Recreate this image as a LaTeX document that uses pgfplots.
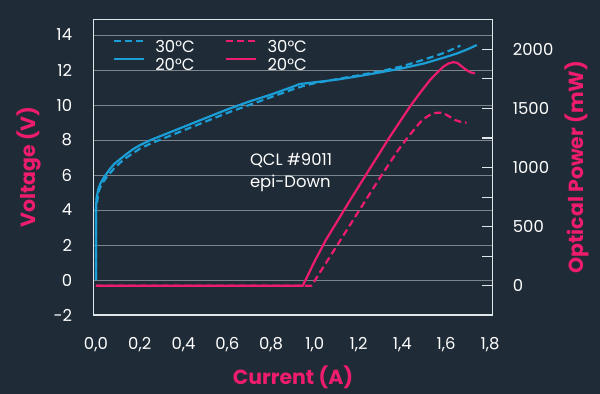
\documentclass[border=0pt]{standalone}
\usepackage{fontspec}
\setmainfont{Poppins}
\usepackage{pgfplots}
\pgfplotsset{compat=1.18}
\definecolor{bg}{RGB}{31,43,54}
\definecolor{qblue}{RGB}{27,158,214}
\definecolor{qpink}{RGB}{238,28,108}
\definecolor{gridc}{RGB}{125,133,140}
\definecolor{framec}{RGB}{225,230,235}
\newcommand{\tfont}{\fontsize{16.5}{16.5}\selectfont}
\newcommand{\lfont}{\fontsize{20.5}{20.5}\selectfont\bfseries}
\pgfplotsset{
  common/.style={
    scale only axis, width=399.4bp, height=295.7bp,
    xmin=-0.012, xmax=1.8125, clip=false,
    tick label style={font=\tfont, text=white},
    /pgf/number format/assume math mode=true,
    /pgf/number format/1000 sep={},
    axis line style={framec, line width=1.1bp},
    legend style={draw=none, fill=none, inner sep=0pt, anchor=north west,
      font=\tfont, text=white, row sep=5.6bp,
      nodes={inner sep=0pt, text height=11.7bp, text depth=0bp},
      /tikz/every odd column/.append style={column sep=10bp}},
    legend cell align=left,
    legend image code/.code={\draw[##1, line width=2.2bp] (0bp,5.5bp) -- (30bp,5.5bp);},
  },
  dsh/.style={dash pattern=on 7bp off 4bp},
}
\begin{document}
\begin{tikzpicture}
\useasboundingbox (-93.3bp,-79bp) rectangle (506.7bp,315bp);
\fill[bg] (-93.3bp,-79bp) rectangle (506.7bp,315bp);
\begin{axis}[common,
  ymin=-2, ymax=14.9,
  ytick={-2,0,2,4,6,8,10,12,14},
  xtick={0,0.2,0.4,0.6,0.8,1,1.2,1.4,1.6,1.8},
  major tick length=0pt, tick style={draw=none},
  xtick pos=bottom, ytick pos=left,
  ymajorgrids, grid style={gridc, line width=0.9bp},
  yticklabel style={anchor=east, inner sep=0pt, xshift=-21bp},
  xticklabel style={anchor=north, inner sep=0pt, yshift=-22bp,
    /pgf/number format/fixed, /pgf/number format/fixed zerofill,
    /pgf/number format/precision=1, /pgf/number format/use comma},
  legend style={at={(0.049,0.931)}},
]
\addplot[qblue, line width=2.2bp, dsh, line join=round] coordinates {
 (0,0) (0.0,4.0) (0.006,4.5) (0.011,5.0) (0.02,5.3) (0.033,5.6) (0.05,5.9)
 (0.085,6.4) (0.11,6.7) (0.14,7.0) (0.17,7.25) (0.2,7.5) (0.25,7.8) (0.3,8.05)
 (0.35,8.3) (0.4,8.55) (0.5,9.05) (0.6,9.55) (0.7,10.0) (0.8,10.45) (0.9,10.9)
 (0.95,11.1) (1.0,11.25) (1.1,11.48) (1.2,11.7) (1.3,11.93) (1.4,12.22)
 (1.5,12.6) (1.6,13.02) (1.665,13.4)};
\addlegendentry{30°C}
\addplot[qblue, line width=2.2bp, line join=round] coordinates {
 (0,0) (0.0,4.0) (0.003,4.7) (0.011,5.2) (0.02,5.5) (0.033,5.8) (0.05,6.1)
 (0.064,6.35) (0.085,6.65) (0.11,6.9) (0.14,7.2) (0.17,7.48) (0.2,7.7) (0.25,8.0)
 (0.3,8.25) (0.35,8.5) (0.4,8.75) (0.5,9.25) (0.6,9.75) (0.7,10.2) (0.8,10.6)
 (0.9,11.05) (0.93,11.2) (1.0,11.3) (1.1,11.45) (1.2,11.65) (1.3,11.87)
 (1.4,12.1) (1.5,12.38) (1.6,12.75) (1.65,12.95) (1.7,13.2) (1.74,13.43)};
\addlegendentry{20°C}
\node[anchor=base west, text=white, font=\tfont, inner sep=0pt] at (axis cs:0.703,6.57) {QCL \#9011};
\node[anchor=base west, text=white, font=\tfont, inner sep=0pt] at (axis cs:0.703,5.3) {epi-Down};
\node[rotate=90, text=qpink, font=\lfont] at (axis description cs:-0.161,0.5) {Voltage (V)};
\node[text=qpink, font=\lfont] at (axis description cs:0.5,-0.21) {Current (A)};
\end{axis}
\begin{axis}[common,
  ymin=-248, ymax=2254,
  hide x axis, axis y line*=right,
  ytick={0,500,1000,1500,2000},
  minor ytick={250,750,1250,1750},
  tick align=inside, major tick length=11bp, minor tick length=11bp,
  tick style={framec, line width=1.1bp},
  yticklabel style={anchor=west, inner sep=0pt, xshift=20bp},
  legend style={at={(0.33,0.931)}},
]
\addplot[qpink, line width=2.2bp, dsh, line join=round] coordinates {
 (0,0) (0.985,0) (1.1,336) (1.2,629) (1.3,921) (1.381,1148) (1.427,1261)
 (1.48,1380) (1.51,1428) (1.534,1453) (1.555,1463) (1.575,1464) (1.595,1452)
 (1.61,1436) (1.64,1402) (1.665,1387) (1.693,1379)};
\addlegendentry{30°C}
\addplot[qpink, line width=2.2bp, line join=round] coordinates {
 (0,0) (0.945,0) (1.0,210) (1.05,385) (1.15,690) (1.252,993) (1.343,1261)
 (1.434,1514) (1.48,1630) (1.526,1740) (1.56,1805) (1.587,1853) (1.61,1880)
 (1.632,1891) (1.65,1886) (1.663,1867) (1.68,1842) (1.7,1815) (1.715,1803) (1.731,1797)};
\addlegendentry{20°C}
\node[rotate=90, text=qpink, font=\lfont] at (axis description cs:1.211,0.5) {Optical Power (mW)};
\end{axis}
\end{tikzpicture}
\end{document}
